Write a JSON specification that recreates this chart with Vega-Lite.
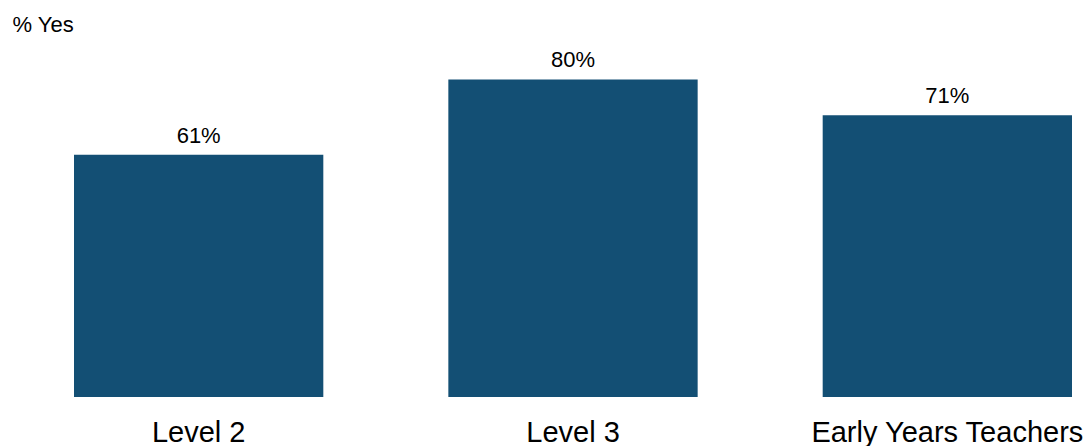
{
  "$schema": "https://vega.github.io/schema/vega-lite/v6.json",
  "autosize": {"type": "none"},
  "width": 998,
  "height": 397,
  "padding": {"left": 74, "top": 0, "right": 19, "bottom": 49},
  "background": "white",
  "config": {"view": {"stroke": null}, "font": "Liberation Sans"},
  "data": {"values": [
    {"group": "Level 2", "value": 61, "label": "61%"},
    {"group": "Level 3", "value": 80, "label": "80%"},
    {"group": "Early Years Teachers", "value": 71, "label": "71%"}
  ]},
  "encoding": {
    "x": {"field": "group", "type": "nominal", "sort": null,
      "scale": {"paddingInner": 0.334, "paddingOuter": 0},
      "axis": {"title": null, "labelAngle": 0, "labelFontSize": 29, "labelColor": "#000000", "labelLimit": 0,
        "ticks": false, "tickSize": 0, "domain": false, "labelPadding": 44, "labelBaseline": "alphabetic", "labelFont": "Liberation Sans"}},
    "y": {"field": "value", "type": "quantitative",
      "scale": {"domain": [0, 100], "nice": false},
      "axis": {"title": "% Yes", "titleAngle": 0, "titleX": -62, "titleY": 31, "titleAlign": "left", "titleBaseline": "alphabetic",
        "titleFontSize": 22, "titleFontWeight": "normal", "titleColor": "#000000", "titleFont": "Liberation Sans",
        "labels": false, "ticks": false, "domain": false, "grid": false}}
  },
  "layer": [
    {"mark": {"type": "bar", "color": "#134F74"}},
    {"mark": {"type": "text", "baseline": "alphabetic", "dy": -12, "fontSize": 22, "color": "#000000", "font": "Liberation Sans"},
      "encoding": {"text": {"field": "label", "type": "nominal"}}}
  ]
}
